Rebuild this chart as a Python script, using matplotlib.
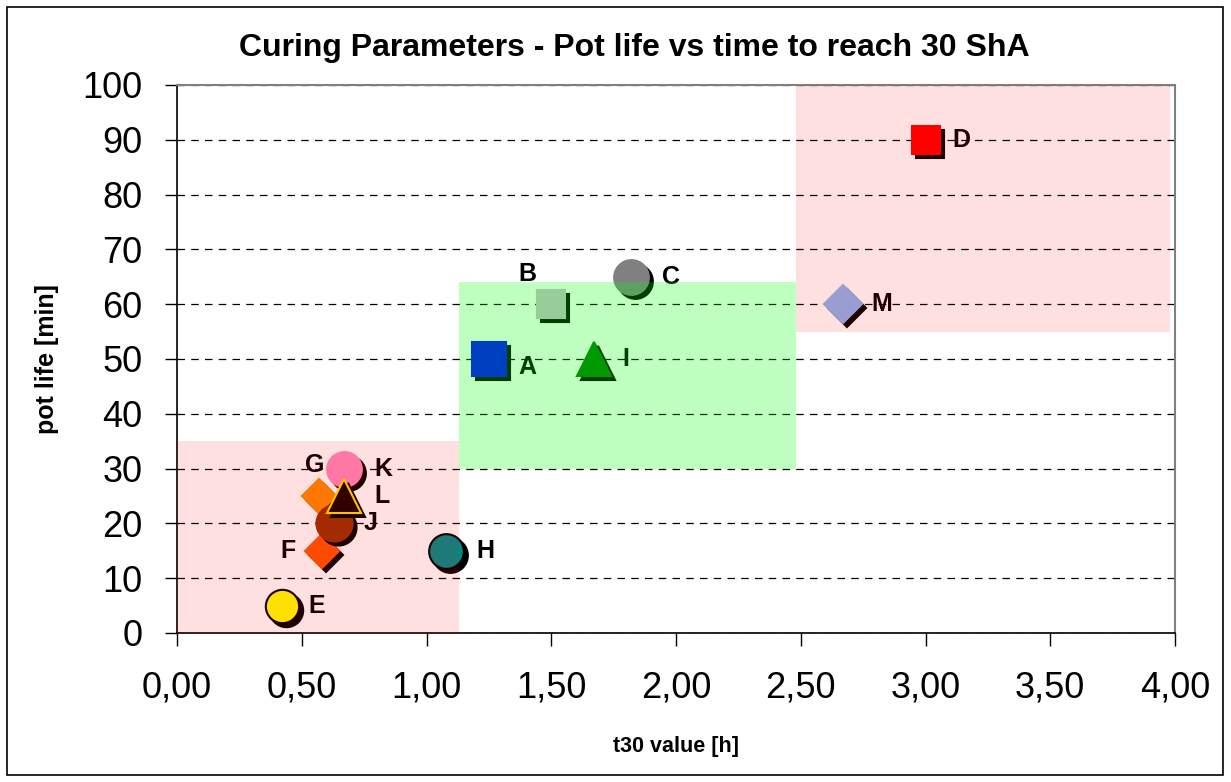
import matplotlib
matplotlib.use("Agg")
import matplotlib.pyplot as plt
import matplotlib.transforms as mtransforms
from matplotlib.patches import Rectangle
from matplotlib.ticker import FuncFormatter, MultipleLocator

plt.rcParams['font.family'] = ['Liberation Sans', 'DejaVu Sans']

# data
names = ['A', 'B', 'C', 'D', 'E', 'F', 'G', 'H', 'I', 'J', 'K', 'L', 'M']
t30 = [1.25, 1.50, 1.82, 3.00, 0.42, 0.58, 0.57, 1.08, 1.67, 0.63, 0.67, 0.67, 2.67]
pot_life = [50, 60, 65, 90, 5, 15, 25, 15, 50, 20, 30, 25, 60]

# shaded zones: (x0, x1, y0, y1)
zones_red = [(0.0, 1.13, 0, 35), (2.48, 3.98, 55, 100)]
zones_green = [(1.13, 2.48, 30, 64)]

# marker styling per point (colours before the translucent zones tint them)
colors = ['#0000FF', '#CCBBCC', '#808080', '#FF0000', '#FFFF00', '#FF5500', '#FF8800',
          '#008B88', '#007700', '#993300', '#FF88BB', '#150000', '#8CB4F0']
edges = ['#0000FF', '#CCBBCC', '#808080', '#FF0000', 'black', '#FF5500', '#FF8800',
         'black', '#007700', '#993300', '#FF88BB', '#FFE000', '#8CB4F0']
markers = ['s', 's', 'o', 's', 'o', 'D', 'D', 'o', '^', 'o', 'o', '^', 'D']
sizes = [25, 20, 25, 20, 24, 17.5, 17, 25, 24, 26, 25, 24, 19]
label_off = [(28, -6), (-17, 22), (29, 0), (26, 0), (25, 0), (-24, 0), (-3, 22),
             (28, 0), (23, 0), (26, 0), (28, 0), (27, 0), (28, 0)]

fig = plt.figure(figsize=(12.31, 7.82), dpi=100)
ax = fig.add_axes([177 / 1231, 1 - 633 / 782, 998 / 1231, 548 / 782])

# outer frame of the chart
fig.patches.append(Rectangle((7 / 1231, 7 / 782), 1216 / 1231, 768 / 782,
                             transform=fig.transFigure, fill=False,
                             edgecolor='black', linewidth=1.2))

ax.set_xlim(0, 4)
ax.set_ylim(0, 100)
ax.xaxis.set_major_locator(MultipleLocator(0.5))
ax.yaxis.set_major_locator(MultipleLocator(10))
ax.xaxis.set_major_formatter(FuncFormatter(lambda v, p: f"{v:.2f}".replace('.', ',')))
ax.yaxis.set_major_formatter(FuncFormatter(lambda v, p: f"{v:.0f}"))
ax.tick_params(axis='both', direction='out', length=9, width=1, labelsize=26)
ax.tick_params(axis='x', pad=18)
ax.tick_params(axis='y', pad=16)

for s in ['left', 'bottom']:
    ax.spines[s].set_color('black')
    ax.spines[s].set_linewidth(1.2)
for s in ['top', 'right']:
    ax.spines[s].set_color('#808080')
    ax.spines[s].set_linewidth(1.5)

ax.yaxis.grid(True, linestyle=(0, (6, 5)), color='black', linewidth=0.9)
ax.set_axisbelow(True)

shadow = mtransforms.offset_copy(ax.transData, fig=fig, x=4, y=-4, units='dots')

for i in range(len(names)):
    ax.plot(t30[i], pot_life[i], marker=markers[i], ms=sizes[i], color='black',
            mec='black', mew=1.5, linestyle='none', transform=shadow, zorder=3 + i * 0.1,
            clip_on=False)
    ax.plot(t30[i], pot_life[i], marker=markers[i], ms=sizes[i], color=colors[i],
            mec=edges[i], mew=1.5, linestyle='none', zorder=3.05 + i * 0.1, clip_on=False)
    ax.annotate(names[i], (t30[i], pot_life[i]), xytext=label_off[i],
                textcoords='offset points', ha='center', va='center',
                fontsize=18, fontweight='bold', color='black', zorder=5)

# translucent zones on top, like the original
for x0, x1, y0, y1 in zones_red:
    ax.add_patch(Rectangle((x0, y0), x1 - x0, y1 - y0, facecolor='#FF0000',
                           alpha=0.12, edgecolor='none', zorder=6))
for x0, x1, y0, y1 in zones_green:
    ax.add_patch(Rectangle((x0, y0), x1 - x0, y1 - y0, facecolor='#00FF00',
                           alpha=0.25, edgecolor='none', zorder=6))

ax.set_xlabel('t30 value [h]', fontsize=15.5, fontweight='bold', labelpad=22)
ax.set_ylabel('pot life [min]', fontsize=18, fontweight='bold', labelpad=17)
fig.text(634 / 1231, 1 - 48 / 782,
         'Curing Parameters - Pot life vs time to reach 30 ShA',
         ha='center', va='center', fontsize=23, fontweight='bold')

fig.savefig('out.png', dpi=100)
